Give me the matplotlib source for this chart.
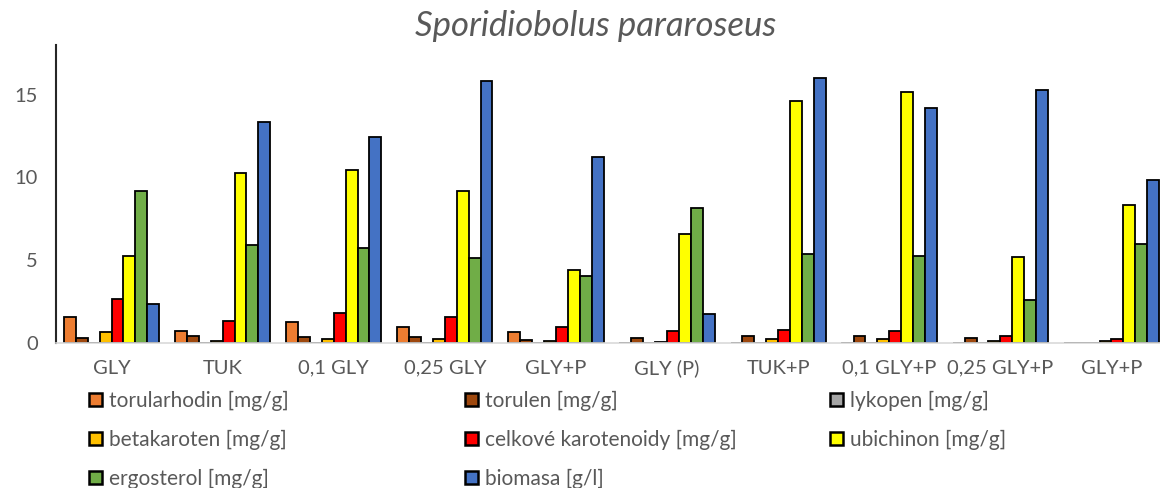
import matplotlib
matplotlib.use("Agg")
import matplotlib.pyplot as plt
import numpy as np

plt.rcParams['font.family'] = ['Lato', 'DejaVu Sans']

# data
categories = ['GLY', 'TUK', '0,1 GLY', '0,25 GLY', 'GLY+P', 'GLY (P)',
              'TUK+P', '0,1 GLY+P', '0,25 GLY+P', 'GLY+P']

torularhodin = [1.57, 0.70, 1.25, 0.95, 0.64, 0.0, 0.0, -0.05, 0.0, 0.02]
torulen = [0.30, 0.40, 0.34, 0.36, 0.18, 0.33, 0.42, 0.42, 0.30, 0.0]
lykopen = [0, 0, 0, 0, 0, 0, 0, 0, 0, 0]
betakaroten = [0.64, 0.14, 0.26, 0.25, 0.12, 0.05, 0.26, 0.26, 0.10, 0.15]
celkove = [2.67, 1.35, 1.83, 1.57, 0.99, 0.70, 0.76, 0.70, 0.40, 0.22]
ubichinon = [5.24, 10.24, 10.42, 9.20, 4.40, 6.57, 14.62, 15.18, 5.18, 8.34]
ergosterol = [9.18, 5.89, 5.74, 5.12, 4.06, 8.18, 5.40, 5.26, 2.57, 5.95]
biomasa = [2.35, 13.34, 12.43, 15.80, 11.25, 1.77, 16.00, 14.22, 15.30, 9.82]

series = [
    ('torularhodin [mg/g]', torularhodin, '#ED7D31'),
    ('torulen [mg/g]', torulen, '#9E480E'),
    ('lykopen [mg/g]', lykopen, '#A5A5A5'),
    ('betakaroten [mg/g]', betakaroten, '#FFC000'),
    ('celkové karotenoidy [mg/g]', celkove, '#FF0000'),
    ('ubichinon [mg/g]', ubichinon, '#FFFF00'),
    ('ergosterol [mg/g]', ergosterol, '#70AD47'),
    ('biomasa [g/l]', biomasa, '#4472C4'),
]

text_color = '#595959'

fig = plt.figure(figsize=(11.6, 4.88), dpi=100)
# plot area runs slightly past the right edge, like the cropped original
ax = fig.add_axes([56 / 1160, 1 - 343 / 488, 1111 / 1160, 298 / 488])

x = np.arange(len(categories))
w = 0.107
handles = []
for i, (name, vals, col) in enumerate(series):
    b = ax.bar(x + (i - 3.5) * w, vals, w, color=col, edgecolor='black',
               linewidth=1.3, label=name)
    handles.append(b)

ax.set_xlim(-0.5, len(categories) - 0.5)
ax.set_ylim(0, 18)
ax.set_yticks([0, 5, 10, 15])
ax.set_xticks(x)
ax.set_xticklabels(categories)
ax.tick_params(axis='both', length=0, labelsize=14.5, colors=text_color)
ax.tick_params(axis='y', pad=13)
ax.tick_params(axis='x', pad=12)

for s in ['top', 'right']:
    ax.spines[s].set_visible(False)
ax.spines['left'].set_color('#262626')
ax.spines['left'].set_linewidth(1.5)
ax.spines['bottom'].set_color('#D9D9D9')
ax.spines['bottom'].set_linewidth(1.2)

fig.text(596 / 1160, 1 - 26 / 488, 'Sporidiobolus pararoseus', ha='center',
         va='center', fontsize=25, style='italic', color=text_color)

# legend in three equal-width columns, filled row by row
columns = [[0, 3, 6], [1, 4, 7], [2, 5]]
col_x = [89, 465, 830]
for idx, cx in zip(columns, col_x):
    leg = fig.legend([handles[k] for k in idx], [series[k][0] for k in idx],
                     loc='upper left', bbox_to_anchor=(cx / 1160, 1 - 391 / 488),
                     ncol=1, frameon=False, fontsize=15, labelcolor=text_color,
                     handlelength=0.6, handleheight=0.6, handletextpad=0.35,
                     labelspacing=0.9, borderpad=0, borderaxespad=0)
    for p in leg.get_patches():
        p.set_linewidth(1.8)

fig.savefig('out.png', dpi=100)
